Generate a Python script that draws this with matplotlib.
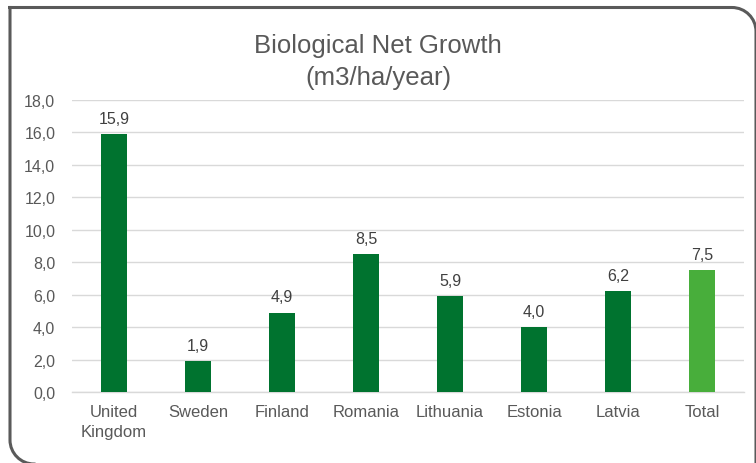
import matplotlib
matplotlib.use("Agg")
import matplotlib.pyplot as plt
from matplotlib.patches import PathPatch
from matplotlib.path import Path

categories = ["United\nKingdom", "Sweden", "Finland", "Romania", "Lithuania",
              "Estonia", "Latvia", "Total"]
values = [15.9, 1.9, 4.9, 8.5, 5.9, 4.0, 6.2, 7.5]
y_ticks = [0, 2, 4, 6, 8, 10, 12, 14, 16, 18]

dark_green = "#00732F"
light_green = "#48AE3B"
text_gray = "#595959"
grid_gray = "#D9D9D9"

plt.rcParams["font.family"] = ["Liberation Sans", "DejaVu Sans"]

W, H = 756, 464
fig = plt.figure(figsize=(W / 100, H / 100), dpi=100)

# Background layer in pixel units for the frame
bg = fig.add_axes([0, 0, 1, 1])
bg.set_xlim(0, W)
bg.set_ylim(H, 0)
bg.axis("off")

# Frame: square top-left corner, rounded top-right and bottom-left corners
x0, y0, x1, y1, r = 10, 8.5, 756, 465, 24
k = 0.5523 * r
verts = [
    (x0, y0),
    (x1 - r, y0),
    (x1 - r + k, y0), (x1, y0 + r - k), (x1, y0 + r),
    (x1, y1 + 40),
    (x0 + r, y1 + 40),
    (x0 + r, y1),
    (x0 + r - k, y1), (x0, y1 - r + k), (x0, y1 - r),
    (x0, y0),
]
codes = [Path.MOVETO, Path.LINETO,
         Path.CURVE4, Path.CURVE4, Path.CURVE4,
         Path.LINETO, Path.MOVETO, Path.LINETO,
         Path.CURVE4, Path.CURVE4, Path.CURVE4,
         Path.LINETO]
bg.add_patch(PathPatch(Path(verts, codes), fill=False, edgecolor="#5A5A5A",
                       linewidth=2.2, capstyle="projecting", joinstyle="miter"))

# Chart area
left, right, top, bottom = 72, 744, 101, 393
ax = fig.add_axes([left / W, 1 - bottom / H, (right - left) / W, (bottom - top) / H])
x = range(len(categories))
colors = [dark_green] * (len(values) - 1) + [light_green]
ax.bar(x, values, width=0.31, color=colors, zorder=3)

ax.set_xlim(-0.5, len(categories) - 0.5)
ax.set_ylim(0, 18)
ax.set_yticks(y_ticks)
ax.set_yticklabels([f"{v:.1f}".replace(".", ",") for v in y_ticks])
ax.set_xticks(list(x))
ax.set_xticklabels(categories, linespacing=1.35)
ax.tick_params(axis="both", length=0, colors=text_gray)
ax.tick_params(axis="y", pad=12, labelsize=11.5)
ax.tick_params(axis="x", pad=9, labelsize=12)
ax.grid(axis="y", color=grid_gray, linewidth=1, zorder=0)
for side in ["top", "right", "left"]:
    ax.spines[side].set_visible(False)
ax.spines["bottom"].set_color(grid_gray)
ax.spines["bottom"].set_linewidth(1)
ax.set_facecolor("none")

for xi, v in zip(x, values):
    ax.annotate(f"{v:.1f}".replace(".", ","), (xi, v), xytext=(0, 6),
                textcoords="offset points", ha="center", va="bottom",
                fontsize=11.5, color="#404040")

fig.text(0.5, 1 - 62 / H, "Biological Net Growth\n(m3/ha/year)", ha="center",
         va="center", fontsize=18.5, color=text_gray, linespacing=1.4)

fig.savefig("out.png", dpi=100)
